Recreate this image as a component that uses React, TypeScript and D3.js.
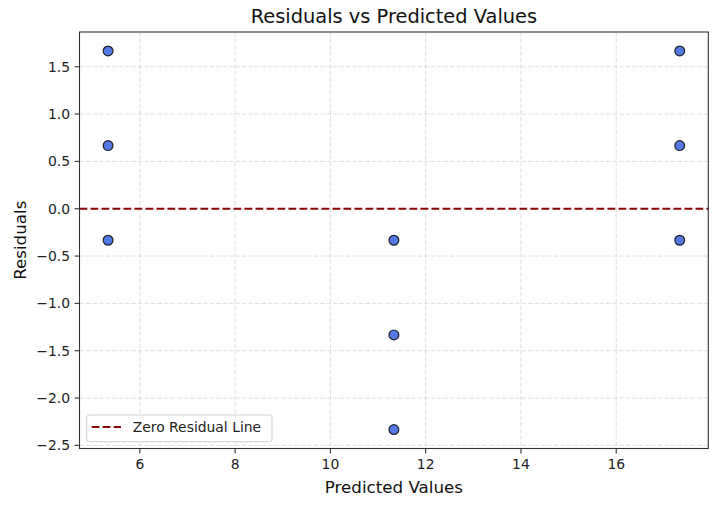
import * as d3 from "d3";

// observed data
const predicted = [5.333, 5.333, 5.333, 11.333, 11.333, 11.333, 17.333, 17.333, 17.333];
const residuals = [1.667, 0.667, -0.333, -0.333, -1.333, -2.333, 1.667, 0.667, -0.333];

const xTicks = [6, 8, 10, 12, 14, 16];
const yTicks = [-2.5, -2.0, -1.5, -1.0, -0.5, 0.0, 0.5, 1.0, 1.5];

const W = 717;
const H = 506;
const margin = { top: 32, right: 8.7, bottom: 57.5, left: 79.5 };
const FONT = "DejaVu Sans, sans-serif";

// matplotlib-style 5% padding
function padded(vals: number[]): [number, number] {
    const [lo, hi] = d3.extent(vals) as [number, number];
    const p = (hi - lo) * 0.05;
    return [lo - p, hi + p];
}

const fmt = (v: number) => v.toFixed(1).replace("-", "\u2212");

export default function App() {
    document.body.style.margin = "0";

    const x = d3.scaleLinear().domain(padded(predicted)).range([margin.left, W - margin.right]);
    const y = d3.scaleLinear().domain(padded(residuals)).range([H - margin.bottom, margin.top]);

    const [x0, x1] = x.range();
    const [y0, y1] = y.range();

    const zeroLine = d3.line<number>()
        .x(d => d)
        .y(() => y(0));

    return (
        <svg width={W} height={H} style={{ display: "block", background: "#fff" }} fontFamily={FONT}>
            {/* grid */}
            <g stroke="#b0b0b0" strokeOpacity={0.4} strokeWidth={1} strokeDasharray="4.5,2">
                {xTicks.map(t => (
                    <line key={"gx" + t} x1={x(t)} x2={x(t)} y1={y1} y2={y0} />
                ))}
                {yTicks.map(t => (
                    <line key={"gy" + t} x1={x0} x2={x1} y1={y(t)} y2={y(t)} />
                ))}
            </g>

            {/* zero residual line */}
            <path d={zeroLine([x0, x1]) || ""} fill="none" stroke="#8b0000" strokeWidth={2} strokeDasharray="7.7,3.3" />

            {/* points */}
            <g>
                {predicted.map((p, i) => (
                    <circle key={i} cx={x(p)} cy={y(residuals[i])} r={4.9}
                        fill="#4169e1" fillOpacity={0.9} stroke="#111" strokeOpacity={0.9} strokeWidth={1.2} />
                ))}
            </g>

            {/* spines */}
            <rect x={x0} y={y1} width={x1 - x0} height={y0 - y1} fill="none" stroke="#333" strokeWidth={1.1} />

            {/* x axis */}
            <g fontSize={13.9} fill="#222" textAnchor="middle">
                {xTicks.map(t => (
                    <g key={"xt" + t}>
                        <line x1={x(t)} x2={x(t)} y1={y0} y2={y0 + 4.9} stroke="#333" strokeWidth={1.1} />
                        <text x={x(t)} y={y0 + 20.5}>{t}</text>
                    </g>
                ))}
            </g>

            {/* y axis */}
            <g fontSize={13.9} fill="#222" textAnchor="end">
                {yTicks.map(t => (
                    <g key={"yt" + t}>
                        <line x1={x0} x2={x0 - 4.9} y1={y(t)} y2={y(t)} stroke="#333" strokeWidth={1.1} />
                        <text x={x0 - 9.5} y={y(t)} dy="0.36em">{fmt(t)}</text>
                    </g>
                ))}
            </g>

            {/* labels */}
            <text x={(x0 + x1) / 2} y={22.7} fontSize={19.4} textAnchor="middle" fill="#111">Residuals vs Predicted Values</text>
            <text x={(x0 + x1) / 2} y={493.3} fontSize={16.7} textAnchor="middle" fill="#111">Predicted Values</text>
            <text transform={`translate(26,${(y0 + y1) / 2}) rotate(-90)`} fontSize={16.7} textAnchor="middle" fill="#111">Residuals</text>

            {/* legend */}
            <g>
                <rect x={86.7} y={415} width={185.3} height={26.7} rx={2.5} fill="#fff" fillOpacity={0.8} stroke="#d0d0d0" strokeWidth={1} />
                <line x1={91.7} x2={121} y1={427} y2={427} stroke="#8b0000" strokeWidth={2} strokeDasharray="7.7,3.3" />
                <text x={132.7} y={432.3} fontSize={13.9} fill="#222">Zero Residual Line</text>
            </g>
        </svg>
    );
}
